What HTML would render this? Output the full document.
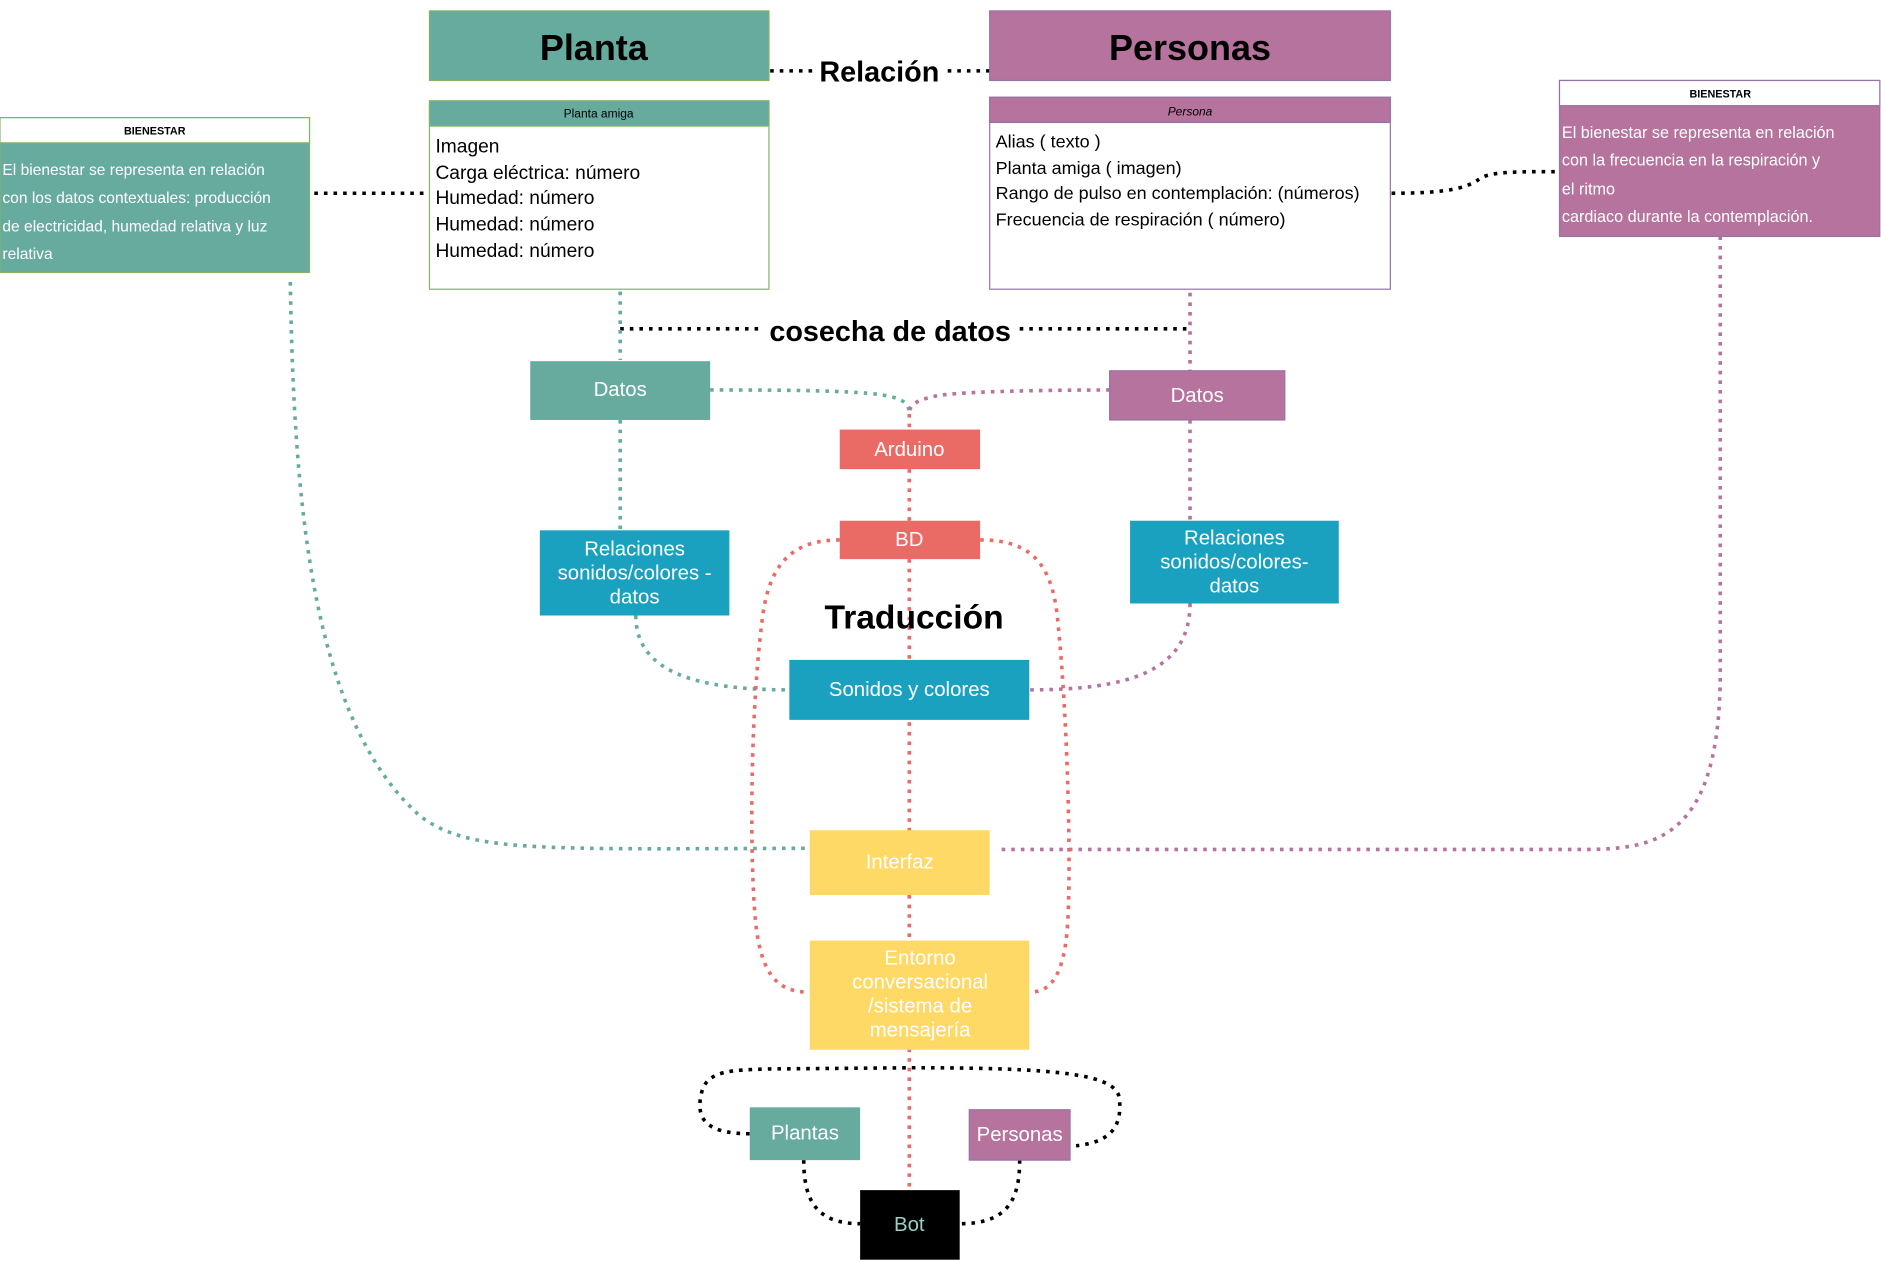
<!DOCTYPE html>
<html><head><meta charset="utf-8"><style>
html,body{margin:0;padding:0;background:#fff;}
svg{display:block;}
text{font-family:"Liberation Sans",sans-serif;}
</style></head><body>
<svg width="1881" height="1261" viewBox="0 0 1568 1051" xmlns="http://www.w3.org/2000/svg">
<g fill="none" stroke-width="3" stroke-linecap="butt">
<!-- black dotted -->
<g stroke="#000" stroke-dasharray="3 5">
<line x1="642" y1="59" x2="678" y2="59"/><line x1="790" y1="59" x2="825" y2="59"/>
<line x1="262" y1="161" x2="358" y2="161"/>
<path d="M1160 161 C1200 161 1220 158 1232 150 C1240 143 1260 143 1300 143"/>
<line x1="517" y1="274" x2="636" y2="274"/><line x1="850" y1="274" x2="992" y2="274"/>
<path d="M625 945 C585 945 580 930 585 910 C590 892 610 892 640 891 L760 890 C880 890 930 895 933 915 C936 940 925 952 897 955"/>
<path d="M670 967 C670 1000 680 1020 717 1020"/>
<path d="M850 967 C850 1000 840 1020 800 1020"/>
</g>
<!-- green dotted -->
<g stroke="#67ab9f" stroke-dasharray="3 5">
<line x1="517" y1="227" x2="517" y2="300"/>
<line x1="517" y1="350" x2="517" y2="442"/>
<path d="M592 325 C640 325 720 325 740 330 C755 333 758 338 758 345"/>
<path d="M530 513 C530 560 580 575 658 575"/>
<path d="M242 235 C245 420 260 600 350 680 C390 710 440 708 675 707"/>
</g>
<!-- purple dotted -->
<g stroke="#b5739d" stroke-dasharray="3 5">
<line x1="992" y1="236" x2="992" y2="309"/>
<line x1="992" y1="350" x2="992" y2="434"/>
<path d="M925 325 C880 325 800 326 780 330 C762 334 758 338 758 345"/>
<path d="M992 503 C992 560 940 575 858 575"/>
<path d="M1434 197 L1434 560 C1434 700 1380 708 1320 708 L830 708"/>
</g>
<!-- red dotted -->
<g stroke="#ea6b66" stroke-dasharray="3 5">
<line x1="758" y1="345" x2="758" y2="358"/>
<line x1="758" y1="391" x2="758" y2="434"/>
<line x1="758" y1="466" x2="758" y2="992"/>
<path d="M700 450 C660 450 640 470 635 520 C625 600 625 720 630 770 C635 815 650 827 675 827"/>
<path d="M817 450 C860 450 878 470 882 520 C890 600 893 720 890 770 C887 815 875 827 858 827"/>
</g>
</g>

<!-- headers -->
<rect x="358" y="9" width="283" height="58" fill="#67ab9f" stroke="#82b366"/>
<text x="495" y="50" font-size="30" font-weight="bold" text-anchor="middle">Planta</text>
<rect x="825" y="9" width="334" height="58" fill="#b5739d" stroke="#9673a6"/>
<text x="992" y="50" font-size="30" font-weight="bold" text-anchor="middle">Personas</text>
<text x="733" y="68" font-size="24" font-weight="bold" text-anchor="middle">Relación</text>

<!-- Planta amiga -->
<rect x="358" y="84" width="283" height="157" fill="#fff" stroke="#82b366"/>
<rect x="358" y="84" width="283" height="21" fill="#67ab9f" stroke="#82b366"/>
<text x="499" y="98" font-size="10" text-anchor="middle">Planta amiga</text>
<g font-size="16"><text x="363" y="127">Imagen</text><text x="363" y="149">Carga eléctrica: número</text><text x="363" y="170">Humedad: número</text><text x="363" y="192">Humedad: número</text><text x="363" y="214">Humedad: número</text></g>

<!-- Persona -->
<rect x="825" y="81" width="334" height="160" fill="#fff" stroke="#9673a6"/>
<rect x="825" y="81" width="334" height="21" fill="#b5739d" stroke="#9673a6"/>
<text x="992" y="96" font-size="10" font-style="italic" text-anchor="middle">Persona</text>
<g font-size="15"><text x="830" y="123">Alias ( texto )</text><text x="830" y="145">Planta amiga ( imagen)</text><text x="830" y="166">Rango de pulso en contemplación: (números)</text><text x="830" y="188">Frecuencia de respiración ( número)</text></g>

<!-- Bienestar left -->
<rect x="0" y="98" width="258" height="129" fill="#67ab9f" stroke="#82b366"/>
<rect x="0" y="98" width="258" height="21" fill="#fff" stroke="#82b366"/>
<text x="129" y="112" font-size="9" font-weight="bold" text-anchor="middle">BIENESTAR</text>
<g font-size="13" fill="#fff"><text x="2" y="146">El bienestar se representa en relación</text><text x="2" y="169">con los datos contextuales: producción</text><text x="2" y="193">de electricidad, humedad relativa y luz</text><text x="2" y="216">relativa</text></g>

<!-- Bienestar right -->
<rect x="1300" y="67" width="267" height="130" fill="#b5739d" stroke="#9673a6"/>
<rect x="1300" y="67" width="267" height="21" fill="#fff" stroke="#9673a6"/>
<text x="1434" y="81" font-size="9" font-weight="bold" text-anchor="middle">BIENESTAR</text>
<g font-size="13.5" fill="#fff"><text x="1302" y="115">El bienestar se representa en relación</text><text x="1302" y="138">con la frecuencia en la respiración  y</text><text x="1302" y="162">el ritmo</text><text x="1302" y="185"> cardiaco durante la contemplación.</text></g>

<text x="742" y="284" font-size="24" font-weight="bold" text-anchor="middle">cosecha de datos</text>
<text x="762" y="524" font-size="28" font-weight="bold" text-anchor="middle">Traducción</text>

<!-- boxes -->
<g font-size="17" fill="#fff" text-anchor="middle">
<rect x="442" y="301" width="150" height="49" fill="#67ab9f"/><text x="517" y="330">Datos</text>
<rect x="925" y="309" width="146" height="41" fill="#b5739d" stroke="#9673a6"/><text x="998" y="335">Datos</text>
<rect x="700" y="358" width="117" height="33" fill="#ea6b66"/><text x="758" y="380">Arduino</text>
<rect x="700" y="434" width="117" height="32" fill="#ea6b66"/><text x="758" y="455">BD</text>
<rect x="450" y="442" width="158" height="71" fill="#1ba1c0"/><text x="529" y="463">Relaciones</text><text x="529" y="483">sonidos/colores -</text><text x="529" y="503">datos</text>
<rect x="942" y="434" width="174" height="69" fill="#1ba1c0"/><text x="1029" y="454">Relaciones</text><text x="1029" y="474">sonidos/colores-</text><text x="1029" y="494">datos</text>
<rect x="658" y="550" width="200" height="50" fill="#1ba1c0"/><text x="758" y="580">Sonidos  y colores</text>
<rect x="675" y="692" width="150" height="54" fill="#ffd966"/><text x="750" y="724">Interfaz</text>
<rect x="675" y="784" width="183" height="91" fill="#ffd966"/><text x="767" y="804">Entorno</text><text x="767" y="824">conversacional</text><text x="767" y="844">/sistema de</text><text x="767" y="864">mensajería</text>
<rect x="625" y="923" width="92" height="44" fill="#67ab9f"/><text x="671" y="950">Plantas</text>
<rect x="808" y="925" width="84" height="42" fill="#b5739d" stroke="#9673a6"/><text x="850" y="951">Personas</text>
<rect x="717" y="992" width="83" height="58" fill="#000"/><text x="758" y="1026" fill="#9ad0c6">Bot</text>
</g>
</svg>
</body></html>
